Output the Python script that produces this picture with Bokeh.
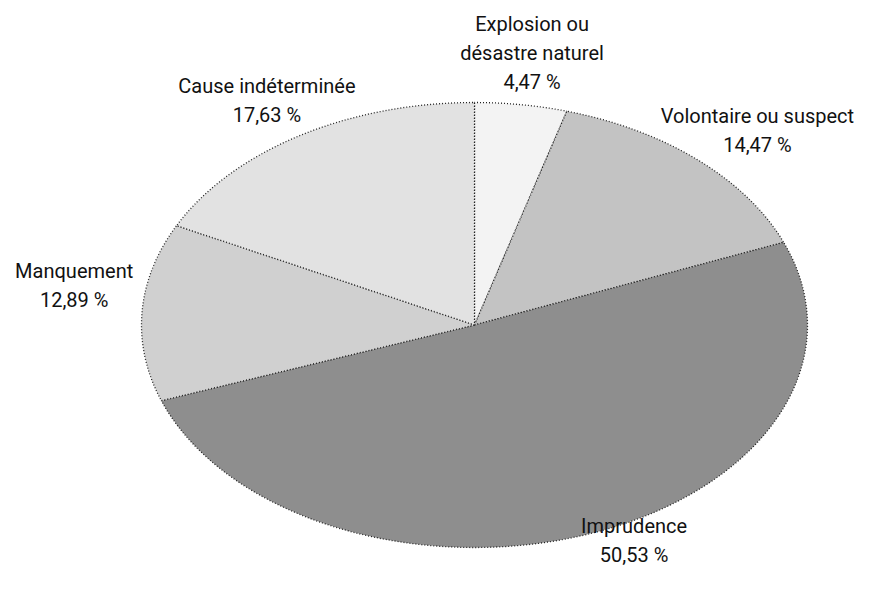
import numpy as np
from bokeh.plotting import figure
from bokeh.models import Range1d, ColumnDataSource
from bokeh.core.properties import value
from bokeh.embed import file_html
from bokeh.resources import INLINE

# ---- data ----
names = ["Explosion ou\ndésastre naturel", "Volontaire ou suspect", "Imprudence",
         "Manquement", "Cause indéterminée"]
shares = [4.47, 14.47, 50.53, 12.89, 17.63]
fills = ["#f3f3f3", "#c3c3c3", "#8e8e8e", "#d0d0d0", "#e2e2e2"]

# ---- layout (label radius factor and angle offset, degrees) ----
label_r = [1.235, 1.22, 1.08, 1.215, 1.185]
label_da = [0.0, 2.0, -5.5, 5.0, 0.0]

W, H = 860, 584
cx_px, cy_px = 474, 324.5
sx, sy = 333.0, 222.5

p = figure(width=W, height=H, output_backend="svg", toolbar_location=None,
           x_range=Range1d(-cx_px / sx, (W - cx_px) / sx),
           y_range=Range1d(-(H - cy_px) / sy, cy_px / sy),
           min_border=0)
p.axis.visible = False
p.grid.visible = False
p.outline_line_color = None
p.background_fill_color = "white"

total = sum(shares)
frac = np.array(shares) / total
cum = np.concatenate([[0.0], np.cumsum(frac)]) * 2 * np.pi

xs, ys = [], []
for i in range(len(shares)):
    t = np.linspace(cum[i], cum[i + 1], 200)
    xs.append(np.concatenate([[0.0], np.sin(t), [0.0]]))
    ys.append(np.concatenate([[0.0], np.cos(t), [0.0]]))

src = ColumnDataSource(dict(xs=xs, ys=ys, fill=fills))
p.patches("xs", "ys", source=src, fill_color="fill", line_color="#222222",
          line_dash="1 2", line_width=1.3)

# labels
lx, ly, lt = [], [], []
for i, (n, v) in enumerate(zip(names, shares)):
    mid = (cum[i] + cum[i + 1]) / 2 + np.deg2rad(label_da[i])
    r = label_r[i]
    lines = n.split("\n") + [f"{v:.2f}".replace(".", ",") + " %"]
    x0 = r * np.sin(mid)
    y0 = r * np.cos(mid)
    step = 29.0 / sy
    nl = len(lines)
    for k, line in enumerate(lines):
        lx.append(x0)
        ly.append(y0 + ((nl - 1) / 2 - k) * step)
        lt.append(line)

p.text(x=lx, y=ly, text=lt, text_align="center", text_baseline="middle",
       text_font=value("Roboto"), text_font_size="20px",
       text_color="#111111")

open("out.html", "w").write(file_html(p, INLINE))
